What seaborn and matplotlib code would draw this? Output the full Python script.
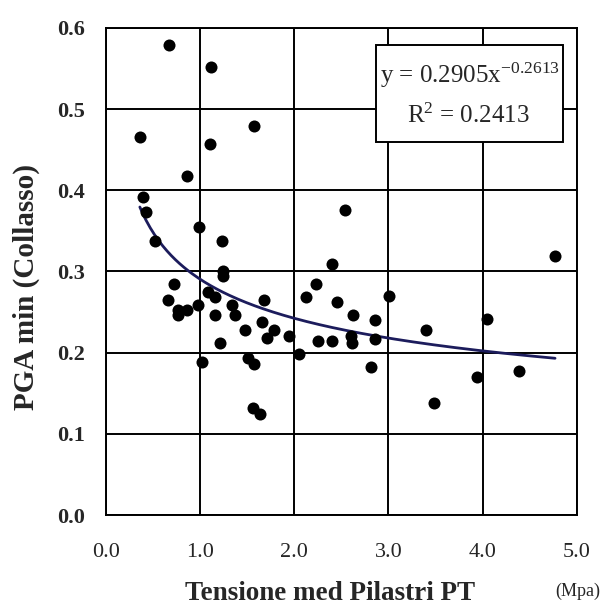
import numpy as np
import pandas as pd
import seaborn as sns
import matplotlib.pyplot as plt
from matplotlib.patches import Rectangle

# Tensione media pilastri (MPa) vs PGA di collasso
tensione = [0.36, 0.39, 0.43, 0.52, 0.67, 0.66, 0.72, 0.77, 0.76, 0.86,
            0.86, 0.98, 0.99, 1.02, 1.08, 1.11, 1.12, 1.16, 1.16, 1.21,
            1.23, 1.24, 1.24, 1.34, 1.37, 1.48, 1.51, 1.57, 1.56, 1.64,
            1.57, 1.66, 1.68, 1.71, 1.78, 1.94, 2.05, 2.12, 2.23, 2.25,
            2.40, 2.40, 2.45, 2.54, 2.60, 2.61, 2.62, 2.82, 2.86, 2.86,
            3.01, 3.40, 3.48, 3.94, 4.05, 4.39, 4.77]
pga = [0.466, 0.392, 0.373, 0.337, 0.579, 0.265, 0.285, 0.253, 0.246, 0.252,
       0.418, 0.259, 0.355, 0.188, 0.275, 0.457, 0.552, 0.269, 0.246, 0.212,
       0.338, 0.301, 0.294, 0.259, 0.247, 0.228, 0.194, 0.186, 0.132, 0.125,
       0.479, 0.238, 0.265, 0.218, 0.228, 0.220, 0.199, 0.268, 0.285, 0.215,
       0.309, 0.214, 0.263, 0.376, 0.220, 0.212, 0.247, 0.182, 0.240, 0.217,
       0.270, 0.228, 0.138, 0.170, 0.242, 0.177, 0.319]

# trendline di potenza (come da equazione riportata)
coef_a = 0.2905
coef_b = -0.2613
r2 = 0.2413

df = pd.DataFrame({"x": tensione, "y": pga})
trend_x = np.linspace(min(tensione), max(tensione), 200)
trend = pd.DataFrame({"x": trend_x, "y": coef_a * trend_x ** coef_b})

sns.set_style("white")
plt.rcParams['font.family'] = ['Liberation Serif', 'DejaVu Serif']
plt.rcParams['mathtext.fontset'] = 'custom'
plt.rcParams['mathtext.rm'] = 'Liberation Serif'
plt.rcParams['mathtext.it'] = 'Liberation Serif:italic'
plt.rcParams['mathtext.bf'] = 'Liberation Serif:bold'

fig = plt.figure(figsize=(6.02, 6.06), dpi=100)
ax = fig.add_axes([0.176, 0.150, 0.782, 0.804])

sns.lineplot(data=trend, x="x", y="y", ax=ax, color="#1c1c5c", linewidth=2)
sns.scatterplot(data=df, x="x", y="y", ax=ax, color="black", s=75,
                edgecolor="black", linewidth=0, zorder=3)

ax.set_xlim(0, 5)
ax.set_ylim(0, 0.6)
ax.set_xticks(np.arange(0, 5.1, 1.0))
ax.set_yticks(np.arange(0, 0.61, 0.1))
ax.set_xticklabels([f"{v:.1f}" for v in np.arange(0, 5.1, 1.0)], fontsize=16)
ax.set_yticklabels([f"{v:.1f}" for v in np.arange(0, 0.61, 0.1)], fontsize=16,
                   fontweight="bold")
ax.tick_params(axis="x", pad=20, length=0)
ax.tick_params(axis="y", pad=15, length=0)
ax.grid(True, color="black", linewidth=1.4)
for s in ax.spines.values():
    s.set_color("black")
    s.set_linewidth(1.4)

ax.set_xlabel("Tensione med Pilastri PT", fontsize=19.5, fontweight="bold")
ax.xaxis.set_label_coords(0.476, -0.136)
ax.set_ylabel("PGA min (Collasso)", fontsize=21, fontweight="bold")
ax.yaxis.set_label_coords(-0.140, 0.468)
fig.text(0.960, 0.024, "(Mpa)", fontsize=13, ha="center", va="center")

# riquadro con equazione della trendline
ax.add_patch(Rectangle((0.573, 0.766), 0.397, 0.199, transform=ax.transAxes,
                       facecolor="white", edgecolor="black", linewidth=1.4,
                       zorder=4))
ax.text(0.774, 0.887, f"y = {coef_a}x$^{{{coef_b}}}$", transform=ax.transAxes,
        ha="center", va="baseline", fontsize=18, zorder=5)
ax.text(0.770, 0.805, f"R$^{{2}}$ = {r2}", transform=ax.transAxes,
        ha="center", va="baseline", fontsize=18, zorder=5)

fig.savefig("out.png", dpi=100)
